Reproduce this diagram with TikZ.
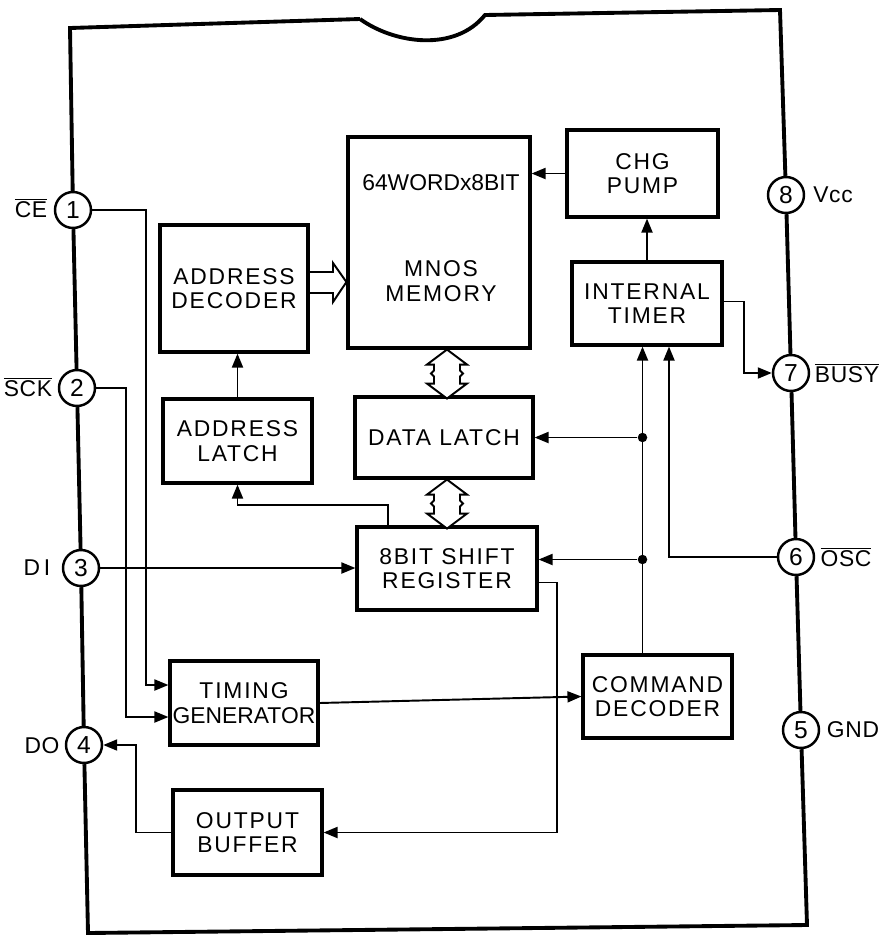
\documentclass[tikz,border=0pt]{standalone}
\usepackage{fontspec}
\setmainfont{Liberation Sans}[LetterSpace=8]
\usetikzlibrary{arrows.meta,calc}

\tikzset{
dblarrow/.pic={
\draw[line width=1.1pt,fill=white] (0,0) -- (20,15) -- (13,15) -- (13,21) -- (16,24) -- (13,27) -- (13,34) -- (20,34) -- (0,49) -- (-20,34) -- (-13,34) -- (-13,27) -- (-16,24) -- (-13,21) -- (-13,15) -- (-20,15) -- cycle;}}

\begin{document}
\begin{tikzpicture}[x=0.02cm,y=-0.02cm,>={Triangle[length=2.8mm,width=2.2mm]},
box/.style={draw,line width=1.8pt,align=center,inner sep=0pt,font=\fontsize{13}{14}\selectfont},
pinc/.style={draw,circle,line width=1.4pt,minimum size=7.2mm,inner sep=0pt,font=\fontsize{14}{14}\selectfont},
lbl/.style={font=\fontsize{13}{14}\selectfont\addfontfeatures{LetterSpace=3},inner sep=0pt},
pkg/.style={line width=2.2pt},
sig/.style={line width=1.1pt},
jdot/.style={circle,fill,inner sep=0pt,minimum size=1.9mm}]
\useasboundingbox (0,0) rectangle (881,937);

% pins
\node[pinc] (p1) at (73,210) {1};
\node[pinc] (p2) at (77,388) {2};
\node[pinc] (p3) at (81,568) {3};
\node[pinc] (p4) at (84,745) {4};
\node[pinc] (p5) at (801,730) {5};
\node[pinc] (p6) at (796,557) {6};
\node[pinc] (p7) at (791,373) {7};
\node[pinc] (p8) at (786,195) {8};
\node[lbl] (lce) at (31,208) {$\overline{\mbox{CE}}$};
\node[lbl] (lsck) at (28,387) {$\overline{\mbox{SCK}}$};
\node[lbl] (ldi) at (37,568) {D\,I};
\node[lbl] (ldo) at (42,746) {DO};
\node[lbl] (lvcc) at (833,195) {Vcc};
\node[lbl] (lbusy) at (847,373) {$\overline{\mbox{BUSY}}$};
\node[lbl] (losc) at (846,557) {$\overline{\mbox{OSC}}$};
\node[lbl] (lgnd) at (853,730) {GND};

% package outline
\coordinate (tl) at (70,28);
\coordinate (nl) at (360,19);
\coordinate (nr) at (485,15);
\coordinate (tr) at (780,10);
\coordinate (br) at (807,925);
\coordinate (bl) at (88,933);
\draw[pkg] (nl) -- (tl) -- (p1) -- (p2) -- (p3) -- (p4) -- (bl) -- (br) -- (p5) -- (p6) -- (p7) -- (p8) -- (tr) -- (nr) .. controls (455,52) and (395,44) .. (nl);

% blocks
\node[box,minimum width=2.96cm,minimum height=2.54cm] (adec) at (234,288.5) {ADDRESS\\DECODER};
\node[box,minimum width=3.64cm,minimum height=4.22cm] (mem) at (439,242.5) {};
\node[lbl,font=\fontsize{13}{14}\selectfont\addfontfeatures{LetterSpace=0}] (memsize) at (441,183) {64WORDx8BIT};
\node[lbl,align=center,font=\fontsize{13}{14}\selectfont] (memname) at (441,281) {MNOS\\MEMORY};
\node[box,minimum width=3.02cm,minimum height=1.74cm] (chg) at (642.5,173.5) {CHG\\PUMP};
\node[box,minimum width=3.0cm,minimum height=1.66cm] (tmr) at (647,303.5) {INTERNAL\\TIMER};
\node[box,minimum width=2.98cm,minimum height=1.68cm] (alat) at (237.5,441) {ADDRESS\\LATCH};
\node[box,minimum width=3.56cm,minimum height=1.62cm] (dlat) at (444,437.5) {DATA LATCH};
\node[box,minimum width=3.6cm,minimum height=1.66cm] (sreg) at (447,568.5) {8BIT SHIFT\\REGISTER};
\node[box,minimum width=2.96cm,minimum height=1.68cm] (tgen) at (244,703) {TIMING\\{\addfontfeatures{LetterSpace=0}GENERATOR}};
\node[box,minimum width=2.98cm,minimum height=1.7cm] (obuf) at (247.5,832.5) {OUTPUT\\BUFFER};
\node[box,minimum width=2.98cm,minimum height=1.66cm] (cdec) at (657.5,696.5) {COMMAND\\DECODER};

% buses
\draw[line width=1.1pt] (adec.east |- 0,272) -- (333,272) -- (333,263) -- (mem.west |- 0,282) -- (333,302) -- (333,293) -- (adec.east |- 0,293);
\pic at (mem.south -| 447,0) {dblarrow};
\pic at (dlat.south -| 447,0) {dblarrow};

% signals
\draw[sig,->] (p1) -| ($(tgen.west)+(-22,-18)$) -- ($(tgen.west)+(0,-18)$);
\draw[sig,->] (p2) -| ($(tgen.west)+(-42,14)$) -- ($(tgen.west)+(0,14)$);
\draw[sig,->] (p3) -- (p3 -| sreg.west);
\draw[sig,->] (tgen.east) -- (cdec.west);
\draw[sig,->] (obuf.west) -- ++(-35,0) |- (p4);
\draw[sig,->] ($(sreg.east)+(0,14)$) -- ++(18,0) |- (obuf.east);
\draw[sig,->] ($(cdec.north)+(-15,0)$) coordinate (cb) -- (cb |- tmr.south);
\node[jdot] (j1) at (cb |- dlat.east) {};
\node[jdot] (j2) at ($(cb |- sreg.east)+(0,-9)$) {};
\draw[sig,->] (j1) -- (dlat.east);
\draw[sig,->] (j2) -- (j2 -| sreg.east);
\draw[sig,->] (p6) -| ($(tmr.south)+(22,0)$);
\draw[sig,->] ($(tmr.east)+(0,-2)$) -- ++(20,0) |- (p7);
\draw[sig,->] (tmr.north) -- (tmr.north |- chg.south);
\draw[sig,->] (chg.west) -- (chg.west -| mem.east);
\draw[sig,->] (alat.north) -- (alat.north |- adec.south);
\draw[sig,->] ($(sreg.north)+(-59,0)$) -- ++(0,-20) -| (alat.south);
\end{tikzpicture}
\end{document}
